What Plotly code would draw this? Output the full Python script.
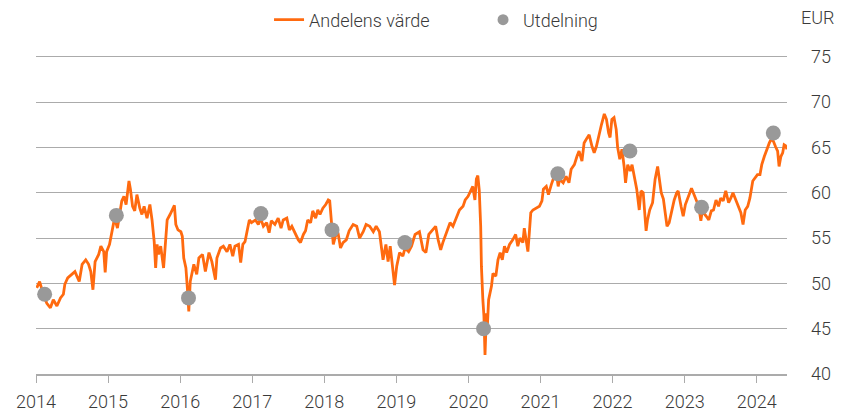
import plotly.graph_objects as go

# ---- data (decimal years) ----
t_value = [
    2014.01, 2014.05, 2014.11, 2014.15, 2014.20, 2014.24, 2014.29, 2014.34, 2014.38, 2014.40,
    2014.44, 2014.50, 2014.54, 2014.60, 2014.64, 2014.69, 2014.73, 2014.76, 2014.79, 2014.82,
    2014.87, 2014.90, 2014.94, 2014.96, 2014.98, 2015.02, 2015.05, 2015.09, 2015.13, 2015.16,
    2015.19, 2015.22, 2015.25, 2015.29, 2015.31, 2015.34, 2015.37, 2015.40, 2015.44, 2015.47,
    2015.50, 2015.54, 2015.58, 2015.61, 2015.64, 2015.66, 2015.68, 2015.70, 2015.73, 2015.77,
    2015.79, 2015.82, 2015.86, 2015.90, 2015.92, 2015.94, 2015.97, 2016.01, 2016.03, 2016.05,
    2016.08, 2016.10, 2016.12, 2016.14,
    2016.19, 2016.23, 2016.26, 2016.31, 2016.35, 2016.40, 2016.44, 2016.49, 2016.51, 2016.56,
    2016.60, 2016.65, 2016.69, 2016.73, 2016.76, 2016.81, 2016.84, 2016.87, 2016.90, 2016.93,
    2016.96, 2016.99, 2017.045, 2017.085, 2017.115, 2017.155, 2017.20, 2017.235, 2017.265, 2017.315,
    2017.36, 2017.40, 2017.43, 2017.48, 2017.515, 2017.55, 2017.59, 2017.64, 2017.67, 2017.71,
    2017.74, 2017.77, 2017.81, 2017.84, 2017.88, 2017.91, 2017.94, 2017.98, 2018.02, 2018.055,
    2018.075, 2018.095, 2018.125, 2018.155, 2018.19, 2018.225, 2018.26, 2018.305, 2018.345,
    2018.40, 2018.45, 2018.49, 2018.54, 2018.58, 2018.63, 2018.68, 2018.72, 2018.765, 2018.795,
    2018.815, 2018.855, 2018.885, 2018.915, 2018.945, 2018.975, 2019.005, 2019.045, 2019.09, 2019.12,
    2019.17, 2019.21, 2019.26, 2019.32, 2019.37, 2019.41, 2019.45, 2019.50, 2019.545, 2019.58,
    2019.615, 2019.645, 2019.695, 2019.745, 2019.785, 2019.835, 2019.875, 2019.925, 2019.955, 2019.995,
    2020.03, 2020.06, 2020.09, 2020.11, 2020.13, 2020.15, 2020.17, 2020.18, 2020.20, 2020.215,
    2020.23, 2020.25, 2020.26, 2020.28, 2020.32, 2020.34, 2020.38, 2020.41, 2020.44, 2020.47,
    2020.50, 2020.53, 2020.57,
    2020.615, 2020.655, 2020.685, 2020.715, 2020.755, 2020.775, 2020.805, 2020.825, 2020.845, 2020.865,
    2020.895, 2020.935, 2020.985, 2021.02, 2021.04, 2021.08, 2021.11, 2021.15, 2021.18, 2021.22,
    2021.245, 2021.265, 2021.315, 2021.355, 2021.395, 2021.425, 2021.47, 2021.505, 2021.535, 2021.575,
    2021.605, 2021.635, 2021.675, 2021.715, 2021.745, 2021.775, 2021.815, 2021.845, 2021.885, 2021.915,
    2021.945, 2021.965, 2021.99, 2022.02, 2022.05, 2022.07, 2022.10, 2022.13, 2022.16, 2022.18,
    2022.21, 2022.245, 2022.27, 2022.305, 2022.335, 2022.37, 2022.395, 2022.425, 2022.465, 2022.485,
    2022.515, 2022.555, 2022.59, 2022.625, 2022.645, 2022.675, 2022.705, 2022.725, 2022.755, 2022.785,
    2022.82, 2022.855, 2022.89, 2022.91, 2022.95, 2022.98, 2023.01, 2023.055, 2023.095, 2023.12,
    2023.155, 2023.195, 2023.225, 2023.245, 2023.30, 2023.335, 2023.37, 2023.40, 2023.435, 2023.47,
    2023.50, 2023.535, 2023.57, 2023.61, 2023.64, 2023.67, 2023.71, 2023.75, 2023.78, 2023.81,
    2023.84, 2023.875, 2023.905, 2023.945, 2023.975, 2024.01, 2024.045, 2024.07, 2024.105, 2024.14,
    2024.175, 2024.20, 2024.23, 2024.26, 2024.29, 2024.31, 2024.335, 2024.36, 2024.38, 2024.40,
    2024.42,
]
andelens_varde = [
    49.5, 50.2, 48.6, 47.8, 47.3, 48.2, 47.5, 48.4, 48.8, 49.9,
    50.6, 51.0, 51.3, 50.2, 52.1, 52.6, 52.1, 51.3, 49.3, 52.4,
    53.2, 54.1, 53.5, 51.2, 53.5, 54.3, 55.6, 57.2, 56.1, 57.8,
    59.1, 59.6, 58.7, 61.3, 60.4, 58.5, 58.0, 59.8, 58.3, 57.6,
    58.5, 57.2, 58.7, 57.0, 54.6, 51.7, 54.3, 53.2, 54.1, 51.7,
    53.9, 57.0, 57.6, 58.3, 58.6, 56.5, 55.9, 55.7, 55.2, 52.8,
    51.7, 49.5, 46.9, 50.2,
    52.1, 51.0, 52.8, 53.2, 51.3, 53.4, 52.4, 50.4, 52.8, 53.9,
    54.1, 53.5, 54.3, 53.0, 54.1, 54.3, 52.3, 54.3, 54.6, 55.8,
    57.0, 56.7, 57.0, 56.5, 57.2, 56.3, 56.7, 55.6, 56.9, 56.5,
    57.2, 56.1, 57.0, 57.2, 55.9, 56.3, 55.6, 54.8, 54.5, 55.4,
    55.8, 57.0, 56.7, 58.0, 57.2, 58.1, 57.6, 58.3, 58.7, 59.2,
    59.1, 57.0, 54.3, 55.2, 55.6, 53.9, 54.5, 54.8, 55.8,
    56.5, 56.3, 55.0, 55.7, 56.5, 56.3, 55.7, 56.3, 55.7, 53.7,
    52.6, 54.3, 52.4, 54.1, 51.9, 49.8, 51.9, 53.4, 53.0, 53.9,
    53.5, 54.1, 55.4, 55.7, 53.7, 53.4, 55.4, 55.9, 56.3, 54.8,
    53.7, 54.5, 55.7, 56.7, 56.3, 57.4, 58.1, 58.5, 59.2, 59.6,
    60.2, 60.7, 59.2, 61.5, 61.9, 60.3, 56.3, 51.9, 48.2, 46.4,
    42.1, 46.7, 44.9, 48.2, 49.7, 51.1, 50.8, 52.6, 53.4, 52.6,
    54.1, 53.4, 54.3,
    54.8, 55.4, 54.1, 55.0, 54.5, 56.1, 54.8, 53.5, 55.6, 57.8,
    58.1, 58.3, 58.5, 59.1, 60.4, 60.7, 59.8, 60.9, 61.6, 62.2,
    60.7, 61.5, 61.1, 61.8, 61.1, 62.6, 63.1, 64.0, 64.6, 63.5,
    65.5, 65.9, 66.4, 65.1, 64.4, 65.1, 66.6, 67.5, 68.7, 68.1,
    66.6, 66.1, 68.1, 68.3, 67.0, 65.0, 63.7, 64.8, 62.9, 61.1,
    63.1, 62.4, 63.1, 61.5, 60.4, 58.1, 60.2, 60.0, 55.8, 57.0,
    58.1, 58.9, 61.5, 62.9, 61.6, 60.0, 59.3, 57.8, 56.3, 56.7,
    58.1, 59.2, 60.0, 60.2, 58.5, 57.4, 58.7, 59.6, 60.5, 60.0,
    59.2, 58.5, 56.9, 58.0, 57.4, 57.0, 58.0, 58.1, 59.2, 58.5,
    59.4, 59.1, 60.2, 58.9, 59.4, 60.0, 59.2, 58.5, 57.8, 56.5,
    58.1, 58.5, 59.4, 61.3, 61.6, 62.0, 62.0, 63.1, 64.0, 64.8,
    65.5, 65.9, 65.7, 65.1, 64.6, 62.9, 64.0, 64.4, 65.3, 65.2,
    64.8,
]

t_dividend = [2014.12, 2015.115, 2016.116, 2017.12, 2018.107, 2019.118,
              2020.21, 2021.24, 2022.24, 2023.235, 2024.23]
utdelning = [48.8, 57.5, 48.4, 57.7, 55.9, 54.5, 45.0, 62.1, 64.6, 58.4, 66.6]

year_ticks = list(range(2014, 2025))
y_ticks = [40, 45, 50, 55, 60, 65, 70, 75]

# ---- styles ----
ORANGE = "#FF6A0F"
GREY_DOT = "#999999"
GRID = "#ABABAB"
TEXT = "#3A3A3A"
FONT = "Roboto"

fig = go.Figure()
fig.add_trace(go.Scatter(
    x=t_value, y=andelens_varde, mode="lines", name="Andelens värde",
    line=dict(color=ORANGE, width=2.8), showlegend=True,
))
fig.add_trace(go.Scatter(
    x=t_dividend, y=utdelning, mode="markers", name="Utdelning",
    marker=dict(color=GREY_DOT, size=15), showlegend=False,
))
# legend-only entry with smaller dot
fig.add_trace(go.Scatter(
    x=[None], y=[None], mode="markers", name="Utdelning",
    marker=dict(color=GREY_DOT, size=11), showlegend=True,
))

fig.update_layout(
    width=850, height=414,
    margin=dict(l=36, r=63, t=55, b=40, autoexpand=False),
    paper_bgcolor="white", plot_bgcolor="white",
    font=dict(family=FONT, size=18, color=TEXT, weight=300),
    legend=dict(
        orientation="h", x=0.3103, xanchor="left", y=1.1097, yanchor="middle",
        font=dict(family=FONT, size=18, color=TEXT, weight=300),
        bgcolor="rgba(0,0,0,0)", itemclick=False, entrywidth=169,
    ),
    xaxis=dict(
        range=[2014, 2024.42], tickmode="array", tickvals=year_ticks,
        ticktext=[str(y) for y in year_ticks],
        showgrid=False, zeroline=False,
        showline=True, linecolor=GRID, linewidth=1.6,
        ticks="outside", ticklen=7, tickwidth=1.4, tickcolor=GRID,
        tickfont=dict(family=FONT, size=18, color=TEXT, weight=300),
        ticklabelstandoff=4,
    ),
    yaxis=dict(
        range=[40, 75.2], side="right", tickmode="array", tickvals=y_ticks,
        showgrid=True, gridcolor=GRID, gridwidth=1.4, zeroline=False,
        showline=False, ticks="",
        tickfont=dict(family=FONT, size=18, color=TEXT, weight=300),
        ticklabelstandoff=23,
    ),
    annotations=[dict(
        text="EUR", xref="paper", yref="paper", x=1.041, y=1.116,
        xanchor="center", yanchor="middle", showarrow=False,
        font=dict(family=FONT, size=18, color=TEXT, weight=300),
    )],
)

fig.write_html(
    "out.html",
    config={"displayModeBar": False},
    post_script="document.body.style.margin='0px';document.body.style.overflow='hidden';",
)
